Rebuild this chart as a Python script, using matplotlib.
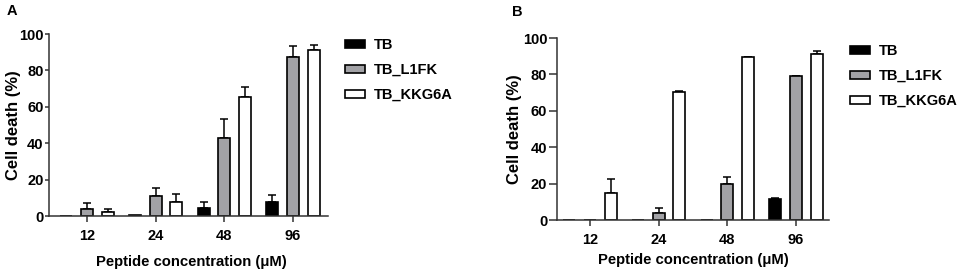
import matplotlib.pyplot as plt
import numpy as np

plt.rcParams['font.family'] = ['Liberation Sans', 'DejaVu Sans']
plt.rcParams['font.weight'] = 'bold'
plt.rcParams['font.size'] = 10.5

concentrations = ['12', '24', '48', '96']
series_names = ['TB', 'TB_L1FK', 'TB_KKG6A']
series_colors = ['#000000', '#a2a2a6', '#ffffff']

# panel A: mean and upper error
a_tb = [0, 0.3, 4.6, 7.5]
a_tb_err = [0, 0, 3, 4]
a_l1fk = [3.7, 11, 43, 87.2]
a_l1fk_err = [3.3, 4.2, 10.5, 6]
a_kkg6a = [2.2, 7.7, 65.3, 91]
a_kkg6a_err = [1.5, 4.6, 5.5, 3]

# panel B
b_tb = [0, 0, 0, 11.6]
b_tb_err = [0, 0, 0, 0.3]
b_l1fk = [0.2, 3.9, 20, 79]
b_l1fk_err = [0, 2.7, 3.9, 0.3]
b_kkg6a = [14.9, 70.4, 89.3, 91.4]
b_kkg6a_err = [7.5, 0.4, 0.5, 1.5]

W, H = 964, 272
fig = plt.figure(figsize=(W / 100, H / 100), dpi=100)


def draw_panel(rect, values, errors, letter, letter_xy, legend_xy, xlim, ylen, ylab_x, xlab_xy):
    ax = fig.add_axes(rect)
    x = np.arange(len(concentrations))
    offsets = [-0.3, 0, 0.3]
    for vals, errs, off, col, name in zip(values, errors, offsets, series_colors, series_names):
        ax.bar(x + off, vals, width=0.175, color=col, edgecolor='black', linewidth=1.2, label=name, zorder=2)
        errs = np.array(errs)
        mask = errs > 0
        ax.errorbar((x + off)[mask], np.array(vals)[mask], yerr=[np.zeros(mask.sum()), errs[mask]],
                    fmt='none', ecolor='black', elinewidth=1.1, capsize=3, capthick=1.1, zorder=1)
    ax.set_xlim(*xlim)
    ax.set_ylim(0, 100)
    ax.set_yticks([0, 20, 40, 60, 80, 100])
    ax.set_xticks(x)
    ax.set_xticklabels(concentrations)
    for s in ['top', 'right']:
        ax.spines[s].set_visible(False)
    for s in ['left', 'bottom']:
        ax.spines[s].set_color('#333333')
        ax.spines[s].set_linewidth(1.1)
    ax.tick_params(axis='y', length=ylen, width=1.1, color='#333333', labelsize=10.5, pad=1)
    ax.tick_params(axis='x', length=4, width=1.1, color='#333333', labelsize=10.5, pad=5)
    ax.set_ylabel('Cell death (%)', fontsize=12, fontweight='bold', va='center')
    ax.set_xlabel('Peptide concentration (μM)', fontsize=10.7, fontweight='bold', va='center')
    cy = rect[1] + rect[3] / 2
    ax.yaxis.set_label_coords(ylab_x / W, cy, transform=fig.transFigure)
    ax.xaxis.set_label_coords(xlab_xy[0] / W, 1 - xlab_xy[1] / H, transform=fig.transFigure)
    fig.text(letter_xy[0] / W, 1 - letter_xy[1] / H, letter, fontsize=10.5, fontweight='bold',
             ha='left', va='center')
    ax.legend(loc='upper left', bbox_to_anchor=(legend_xy[0] / W, 1 - legend_xy[1] / H),
              bbox_transform=fig.transFigure, frameon=False, fontsize=10.5,
              handlelength=1.35, handleheight=0.5, handletextpad=0.6, labelspacing=0.75,
              borderpad=0, borderaxespad=0)
    return ax


draw_panel([49 / W, 1 - 216 / H, (328 - 49) / W, (216 - 34) / H],
           [a_tb, a_l1fk, a_kkg6a], [a_tb_err, a_l1fk_err, a_kkg6a_err],
           'A', (7, 11), (345, 38), (-0.553, 3.51), 3, 14, (191, 262))
draw_panel([557 / W, 1 - 220 / H, (829 - 557) / W, (220 - 38) / H],
           [b_tb, b_l1fk, b_kkg6a], [b_tb_err, b_l1fk_err, b_kkg6a_err],
           'B', (512, 12), (850, 44), (-0.48, 3.48), 6, 515, (693, 260))

fig.savefig('out.png', dpi=100)
